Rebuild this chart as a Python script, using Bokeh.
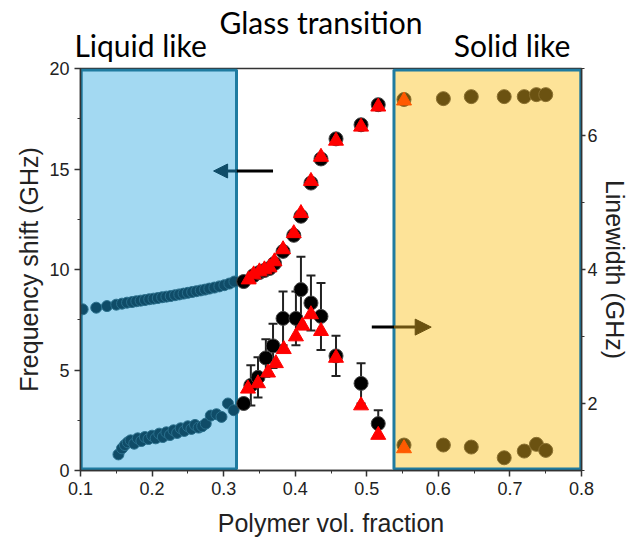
from bokeh.plotting import figure
from bokeh.models import (Range1d, LinearAxis, FixedTicker, BoxAnnotation,
                          Whisker, ColumnDataSource, Arrow, NormalHead)
from bokeh.embed import file_html
from bokeh.resources import INLINE

# ---------------- data ----------------
# liquid-like region: frequency shift (GHz)
liq_fs_x = [0.103, 0.122, 0.137, 0.150, 0.158, 0.165, 0.172, 0.178, 0.184, 0.190,
            0.196, 0.202, 0.208, 0.214, 0.220, 0.226, 0.232, 0.238, 0.244, 0.250,
            0.256, 0.262, 0.268, 0.274, 0.280, 0.287, 0.294, 0.301, 0.308, 0.315]
liq_fs_y = [8.02, 8.10, 8.18, 8.25, 8.30, 8.35, 8.38, 8.42, 8.45, 8.48,
            8.52, 8.55, 8.58, 8.62, 8.65, 8.68, 8.72, 8.76, 8.80, 8.84,
            8.88, 8.92, 8.96, 9.00, 9.05, 9.10, 9.16, 9.22, 9.30, 9.40]
# liquid-like region: linewidth (GHz)
liq_lw_x = [0.153, 0.158, 0.162, 0.166, 0.170, 0.175, 0.180, 0.185, 0.190, 0.195,
            0.200, 0.205, 0.210, 0.215, 0.220, 0.225, 0.230, 0.235, 0.240, 0.245,
            0.250, 0.255, 0.260, 0.265, 0.270, 0.275, 0.282, 0.290, 0.297, 0.306, 0.314]
liq_lw_y = [1.24, 1.33, 1.38, 1.42, 1.45, 1.40, 1.48, 1.44, 1.50, 1.47,
            1.52, 1.48, 1.55, 1.50, 1.57, 1.53, 1.60, 1.56, 1.63, 1.59,
            1.66, 1.62, 1.68, 1.64, 1.66, 1.70, 1.82, 1.84, 1.80, 2.00, 1.90]

# glass transition: black spheres
tr_fs_x = [0.328, 0.342, 0.350, 0.357, 0.364, 0.371, 0.383, 0.398, 0.408, 0.422, 0.436, 0.457, 0.492, 0.516]
tr_fs_y = [9.40, 9.70, 9.85, 9.95, 10.05, 10.30, 10.90, 11.70, 12.65, 14.30, 15.50, 16.50, 17.20, 18.20]
tr_lw_x = [0.328, 0.338, 0.348, 0.359, 0.369, 0.383, 0.401, 0.408, 0.422, 0.436, 0.457, 0.492, 0.516]
tr_lw_y = [2.00, 2.27, 2.39, 2.68, 2.86, 3.27, 3.27, 3.70, 3.50, 3.30, 2.71, 2.30, 1.70]
tr_lw_err = [0.00, 0.30, 0.30, 0.28, 0.33, 0.40, 0.40, 0.49, 0.41, 0.50, 0.30, 0.30, 0.20]

# glass transition: red triangles
tri_fs_x = [0.335, 0.342, 0.350, 0.357, 0.364, 0.371, 0.383, 0.398, 0.408, 0.422, 0.436, 0.457, 0.492, 0.516]
tri_fs_y = [9.50, 9.75, 9.90, 10.00, 10.10, 10.40, 11.00, 11.80, 12.80, 14.40, 15.60, 16.40, 17.10, 18.10]
tri_lw_x = [0.334, 0.348, 0.362, 0.373, 0.384, 0.401, 0.410, 0.422, 0.436, 0.457, 0.492, 0.516]
tri_lw_y = [2.22, 2.30, 2.46, 2.60, 2.81, 3.00, 3.16, 3.33, 3.08, 2.68, 1.97, 1.53]

# solid-like region
sol_x = [0.552, 0.607, 0.646, 0.692, 0.720, 0.737, 0.750]
sol_fs_y = [18.46, 18.50, 18.60, 18.60, 18.60, 18.70, 18.70]
sol_lw_y = [1.38, 1.38, 1.35, 1.19, 1.29, 1.39, 1.30]
orange_x = [0.552]
orange_fs_y = [18.40]
orange_lw_y = [1.33]

x_ticks = [0.1, 0.2, 0.3, 0.4, 0.5, 0.6, 0.7, 0.8]
x_minor = [0.15, 0.25, 0.35, 0.45, 0.55, 0.65, 0.75]
y_ticks = [0, 5, 10, 15, 20]
y_minor = [2.5, 7.5, 12.5, 17.5]
lw_ticks = [2, 4, 6]
lw_minor = [1, 3, 5, 7]

liquid_region = (0.101, 0.318)
solid_region = (0.538, 0.799)
region_labels = {0.184: "Liquid like", 0.703: "Solid like"}
header_labels = {0.436: "Glass transition"}

# ---------------- colours ----------------
BLUE_FILL = "#a3d9f2"
YELLOW_FILL = "#fde398"
BORDER = "#1f7ba0"
TEAL = "#0f4c68"
BROWN = "#6b5211"
RED = "#ff0000"
ORANGE = "#ff5a00"
AX_FONT = "Liberation Sans"
TXT_FONT = "Lato"

p = figure(width=633, height=542, output_backend="svg", toolbar_location=None,
           x_range=Range1d(0.1, 0.8), y_range=Range1d(0, 20),
           min_border_left=80, min_border_right=52, min_border_top=67, min_border_bottom=72)
p.extra_y_ranges = {"lw": Range1d(1, 7)}
p.grid.visible = False
p.outline_line_color = "#333333"
p.outline_line_width = 1.5
p.background_fill_color = "white"
p.border_fill_color = "white"

xa = p.below[0]
ya = p.left[0]


def text_axis(labels, standoff):
    ax = LinearAxis(ticker=FixedTicker(ticks=list(labels.keys()), minor_ticks=[]),
                    major_label_overrides=labels)
    ax.axis_line_color = None
    ax.major_tick_line_color = None
    ax.minor_tick_line_color = None
    ax.major_tick_out = 0
    ax.major_tick_in = 0
    ax.minor_tick_out = 0
    ax.major_label_standoff = standoff
    ax.major_label_text_font = TXT_FONT
    ax.major_label_text_font_size = "30px"
    ax.major_label_text_color = "black"
    return ax


# region names ("Liquid like", "Solid like") and header ("Glass transition")
p.add_layout(text_axis(region_labels, 6), "above")
p.add_layout(text_axis(header_labels, -16), "above")

# regions
p.add_layout(BoxAnnotation(left=liquid_region[0], right=liquid_region[1], bottom=0.08, top=19.92,
                           fill_color=BLUE_FILL, fill_alpha=1, line_color=BORDER, line_alpha=1,
                           line_width=3, level="underlay"))
p.add_layout(BoxAnnotation(left=solid_region[0], right=solid_region[1], bottom=0.08, top=19.92,
                           fill_color=YELLOW_FILL, fill_alpha=1, line_color=BORDER, line_alpha=1,
                           line_width=3, level="underlay"))

# axes
xa.ticker = FixedTicker(ticks=x_ticks, minor_ticks=x_minor)
xa.axis_label = "Polymer vol. fraction"
ya.ticker = FixedTicker(ticks=y_ticks, minor_ticks=y_minor)
ya.axis_label = "Frequency shift (GHz)"
ra = LinearAxis(y_range_name="lw", axis_label="Linewidth (GHz)",
                ticker=FixedTicker(ticks=lw_ticks, minor_ticks=lw_minor))
p.add_layout(ra, "right")
for ax in (xa, ya, ra):
    ax.axis_line_color = "#333333"
    ax.axis_line_width = 1.5
    ax.major_tick_line_color = "#333333"
    ax.minor_tick_line_color = "#333333"
    ax.major_tick_line_width = 1.5
    ax.major_tick_out = 6
    ax.major_tick_in = 0
    ax.minor_tick_out = 3
    ax.minor_tick_in = 0
    ax.major_label_text_font = AX_FONT
    ax.major_label_text_font_size = "18px"
    ax.major_label_text_color = "#222222"
    ax.axis_label_text_font = AX_FONT
    ax.axis_label_text_font_size = "25px"
    ax.axis_label_text_font_style = "normal"
    ax.axis_label_text_color = "#222222"
ya.axis_label_standoff = 3
ya.major_label_standoff = 5
ra.major_tick_out = 4
ra.axis_label_standoff = 0
ra.major_label_standoff = 2
xa.axis_label_standoff = 11
xa.major_label_standoff = 5

# liquid-like data
p.scatter(liq_fs_x, liq_fs_y, size=11, marker="circle", fill_color=TEAL, line_color="#2a6f8c")
p.scatter(liq_lw_x, liq_lw_y, size=11, marker="circle", fill_color=TEAL, line_color="#2a6f8c",
          y_range_name="lw")

# error bars
src = ColumnDataSource(dict(x=tr_lw_x, upper=[a + b for a, b in zip(tr_lw_y, tr_lw_err)],
                            lower=[a - b for a, b in zip(tr_lw_y, tr_lw_err)]))
wh = Whisker(base="x", upper="upper", lower="lower", source=src, dimension="height",
             y_range_name="lw", line_color="#222222", line_width=2)
for h in (wh.upper_head, wh.lower_head):
    h.size = 9
    h.line_width = 2
    h.line_color = "#222222"
p.add_layout(wh)

# black spheres
p.scatter(tr_fs_x, tr_fs_y, size=14, marker="circle", fill_color="black", line_color="#444444")
p.scatter(tr_lw_x, tr_lw_y, size=14, marker="circle", fill_color="black", line_color="#444444",
          y_range_name="lw")
# red triangles
p.scatter(tri_fs_x, tri_fs_y, size=15, marker="triangle", fill_color=RED, line_color=RED)
p.scatter(tri_lw_x, tri_lw_y, size=15, marker="triangle", fill_color=RED, line_color=RED,
          y_range_name="lw")

# solid-like data
p.scatter(sol_x, sol_fs_y, size=14, marker="circle", fill_color=BROWN, line_color="#8a7030")
p.scatter(sol_x, sol_lw_y, size=14, marker="circle", fill_color=BROWN, line_color="#8a7030",
          y_range_name="lw")
p.scatter(orange_x, orange_fs_y, size=15, marker="triangle", fill_color=ORANGE, line_color=ORANGE)
p.scatter(orange_x, orange_lw_y, size=15, marker="triangle", fill_color=ORANGE, line_color=ORANGE,
          y_range_name="lw")

# arrows
p.segment(x0=[0.369], y0=[14.9], x1=[0.318], y1=[14.9], line_color="black", line_width=3)
p.add_layout(Arrow(x_start=0.318, y_start=14.9, x_end=0.286, y_end=14.9, line_color=TEAL,
                   line_width=3, end=NormalHead(size=14, fill_color=TEAL, line_color=TEAL)))
p.segment(x0=[0.507], y0=[3.14], x1=[0.538], y1=[3.14], line_color="black", line_width=3,
          y_range_name="lw")
p.add_layout(Arrow(x_start=0.538, y_start=3.14, x_end=0.59, y_end=3.14, line_color=BROWN,
                   line_width=3, y_range_name="lw",
                   end=NormalHead(size=16, fill_color=BROWN, line_color=BROWN)))

open("out.html", "w").write(file_html(p, INLINE))
